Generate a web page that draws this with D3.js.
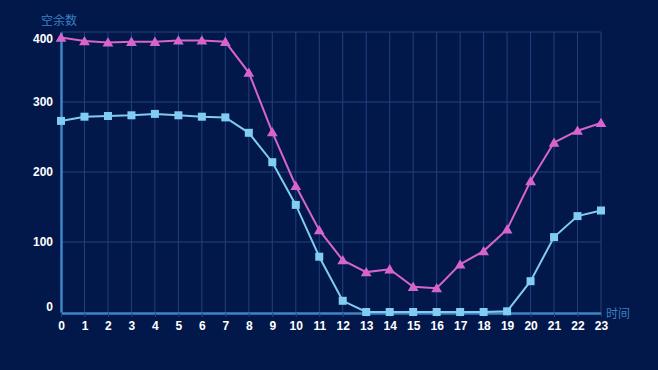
<!DOCTYPE html>
<html>
<head>
<meta charset="utf-8">
<script src="https://cdn.jsdelivr.net/npm/d3@7"></script>
<style>
  body { margin: 0; background: #02184a; }
  svg { display: block; font-family: "Microsoft YaHei", "Noto Sans CJK SC", sans-serif; }
</style>
</head>
<body>
<div id="chart"></div>
<script>
const hours = d3.range(0, 24); // 0..23
const freeTri = [392, 387, 385, 386, 386, 388, 388, 386, 342, 257, 180, 117, 74, 57, 61, 36, 34, 68, 87, 118, 187, 242, 259, 270];
const freeSq = [273, 279, 280, 281, 283, 281, 279, 278, 256, 214, 153, 79, 16, 0, 0, 0, 0, 0, 0, 1, 44, 107, 137, 145];
const yTicks = [0, 100, 200, 300, 400];

const width = 658, height = 370;
const padLeft = 61, padRight = 601, padTop = 32, padBottom = 312;

const x = d3.scaleLinear().domain([0, 23]).range([padLeft, padRight]);
const y = d3.scaleLinear().domain([0, 400]).range([padBottom, padTop]);

const svg = d3.select("#chart").append("svg")
    .attr("width", width)
    .attr("height", height);

svg.append("rect").attr("width", width).attr("height", height).attr("fill", "#02184a");

// grid
svg.append("g").selectAll("line")
    .data(yTicks.slice(1))
    .join("line")
    .attr("x1", padLeft).attr("x2", padRight)
    .attr("y1", d => y(d)).attr("y2", d => y(d))
    .attr("stroke", "#22407e").attr("stroke-width", 1);

svg.append("g").selectAll("line")
    .data(hours.slice(1))
    .join("line")
    .attr("x1", d => x(d)).attr("x2", d => x(d))
    .attr("y1", padTop).attr("y2", padBottom)
    .attr("stroke", "#22407e").attr("stroke-width", 1);

// x axis
const xAxis = svg.append("g")
    .attr("transform", `translate(0, ${padBottom + 1})`)
    .call(d3.axisBottom(x).tickValues(hours).tickFormat(d3.format("d"))
        .tickSizeInner(4).tickSizeOuter(0).tickPadding(4));
xAxis.select(".domain").attr("stroke", "#3f86c8").attr("stroke-width", 2.5);
xAxis.selectAll(".tick line").attr("stroke", "#2a3f6e");
xAxis.selectAll(".tick text").attr("fill", "#fff").attr("font-size", 12).attr("font-weight", "bold")
    .attr("font-family", "Arial, 'Liberation Sans', sans-serif");

// y axis
const yAxis = svg.append("g")
    .attr("transform", `translate(${padLeft}, 0)`)
    .call(d3.axisLeft(y).tickValues(yTicks).tickSize(0).tickPadding(8));
yAxis.select(".domain").attr("stroke", "#3f86c8").attr("stroke-width", 2.5);
yAxis.selectAll(".tick text").attr("fill", "#fff").attr("font-size", 12).attr("font-weight", "bold")
    .attr("font-family", "Arial, 'Liberation Sans', sans-serif")
    .attr("dy", d => d === 400 ? "0.85em" : d === 0 ? "-0.15em" : "0.32em");

// axis names
svg.append("text").attr("x", 41).attr("y", 25).text("空余数")
    .attr("fill", "#3a7fc0").attr("font-size", 12);
svg.append("text").attr("x", 606).attr("y", 318).text("时间")
    .attr("fill", "#3a7fc0").attr("font-size", 12);

// lines
const line = d3.line().x((d, i) => x(i)).y(d => y(d));

svg.append("path").datum(freeSq)
    .attr("d", line).attr("fill", "none")
    .attr("stroke", "#80ccf2").attr("stroke-width", 2);
svg.append("path").datum(freeTri)
    .attr("d", line).attr("fill", "none")
    .attr("stroke", "#d664cc").attr("stroke-width", 2);

svg.append("g").selectAll("rect")
    .data(freeSq)
    .join("rect")
    .attr("x", (d, i) => x(i) - 4).attr("y", d => y(d) - 4)
    .attr("width", 8).attr("height", 8)
    .attr("fill", "#80ccf2");

const tri = d3.symbol().type(d3.symbolTriangle).size(50);
svg.append("g").selectAll("path")
    .data(freeTri)
    .join("path")
    .attr("d", tri)
    .attr("transform", (d, i) => `translate(${x(i)}, ${y(d) + 1})`)
    .attr("fill", "#d664cc");
</script>
</body>
</html>
